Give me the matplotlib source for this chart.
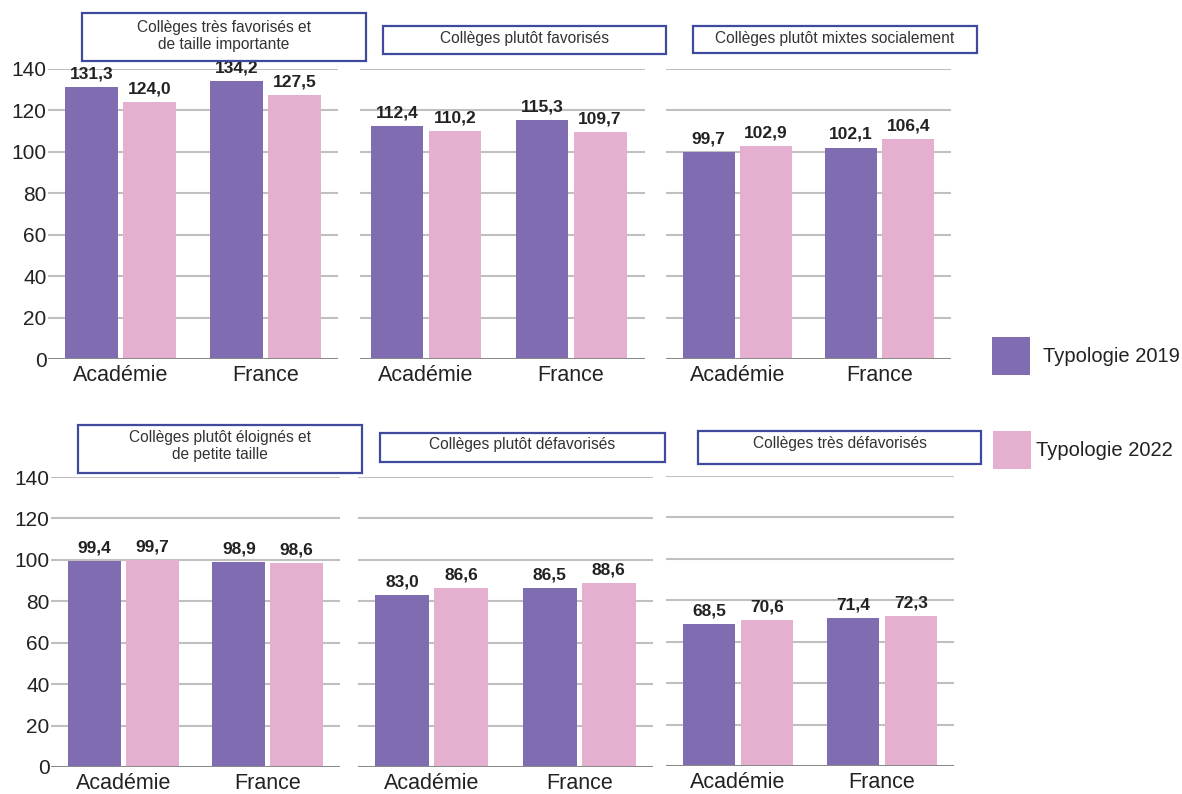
import matplotlib
matplotlib.use("Agg")
import matplotlib.pyplot as plt
from matplotlib.patches import Rectangle
import numpy as np

# data
titles = [
    "Collèges très favorisés et\nde taille importante",
    "Collèges plutôt favorisés",
    "Collèges plutôt mixtes socialement",
    "Collèges plutôt éloignés et\nde petite taille",
    "Collèges plutôt défavorisés",
    "Collèges très défavorisés",
]
categories = ["Académie", "France"]
typo_2019 = [[131.3, 134.2], [112.4, 115.3], [99.7, 102.1],
             [99.4, 98.9], [83.0, 86.5], [68.5, 71.4]]
typo_2022 = [[124.0, 127.5], [110.2, 109.7], [102.9, 106.4],
             [99.7, 98.6], [86.6, 88.6], [70.6, 72.3]]
series_names = ["Typologie 2019", "Typologie 2022"]
yticks = [0, 20, 40, 60, 80, 100, 120, 140]

PURPLE = "#7f6cb1"
PINK = "#e5b0d0"
BOXBLUE = "#3f4a9e"
W, H = 1182, 794

plain = ["Liberation Sans", "DejaVu Sans"]

fig = plt.figure(figsize=(W / 100, H / 100), dpi=100)


def fx(x):
    return x / W


def fy(y):
    return 1 - y / H


# axes extents in pixels: (left, right, top(140), bottom(0)) and x limits
panels = [(48, 338, 69, 359), (360, 645, 69, 359), (666, 951, 69, 359),
          (51, 340, 477, 767), (358, 653, 477, 767), (666, 954, 476, 766)]
xlims = [(-0.5, 1.5), (-0.455, 1.51), (-0.5, 1.5),
         (-0.5, 1.5), (-0.5, 1.5), (-0.5, 1.5)]
# title boxes in pixels: (left, top, right, bottom, text center y)
boxes = [(82, 13, 366, 61, 36), (383, 26, 666, 54, 38), (693, 26, 977, 53, 38),
         (78, 425, 362, 473, 446), (380, 433, 665, 462, 444), (698, 431, 981, 464, 443)]

for i in range(6):
    l, r, t, b = panels[i]
    ax = fig.add_axes([fx(l), fy(b), fx(r) - fx(l), fy(t) - fy(b)])
    x = np.arange(len(categories))
    w = 0.365
    b1 = ax.bar(x - 0.2, typo_2019[i], w, color=PURPLE, zorder=3)
    b2 = ax.bar(x + 0.2, typo_2022[i], w, color=PINK, zorder=3)
    for bars in (b1, b2):
        for rect in bars:
            v = rect.get_height()
            ax.annotate(f"{v:.1f}".replace(".", ","),
                        (rect.get_x() + rect.get_width() / 2, v),
                        xytext=(0, 4), textcoords="offset points",
                        ha="center", va="bottom", fontsize=12.5,
                        fontweight="bold", color="#222222", family=plain)
    ax.set_xlim(*xlims[i])
    ax.set_ylim(0, 140)
    ax.set_yticks(yticks)
    for yv in yticks[1:]:
        ax.axhline(yv, color="#c0c0c0", lw=1.5, zorder=1)
    ax.axhline(0, color="#8a8a8a", lw=2.2, zorder=4)
    for s in ax.spines.values():
        s.set_visible(False)
    ax.set_xticks(x)
    ax.set_xticklabels(categories, fontsize=15.5, family=plain, color="#222222")
    ax.tick_params(axis="x", length=0, pad=4)
    ax.tick_params(axis="y", length=0, pad=1)
    if i % 3 == 0:
        ax.set_yticklabels([str(v) for v in yticks], fontsize=15,
                           family=plain, color="#222222")
    else:
        ax.set_yticklabels([])

    bl, bt, br, bb, ty = boxes[i]
    fig.patches.append(Rectangle((fx(bl), fy(bb)), fx(br) - fx(bl), fy(bt) - fy(bb),
                                 transform=fig.transFigure, facecolor="white",
                                 edgecolor=BOXBLUE, lw=1.6))
    fig.text(fx((bl + br) / 2), fy(ty), titles[i], ha="center", va="center",
             fontsize=11.2, family=plain, color="#333333", linespacing=1.2)

# legend
for (sx, sy, tx, ty), name, col in zip([(992, 337, 1043, 356), (993, 431, 1036, 450)],
                                      series_names, [PURPLE, PINK]):
    fig.patches.append(Rectangle((fx(sx), fy(sy + 38)), fx(38), 38 / H,
                                 transform=fig.transFigure, facecolor=col,
                                 edgecolor="none"))
    fig.text(fx(tx), fy(ty), name, ha="left", va="center", fontsize=14.5,
             family=plain, color="#222222")

fig.savefig("out.png", dpi=100)
